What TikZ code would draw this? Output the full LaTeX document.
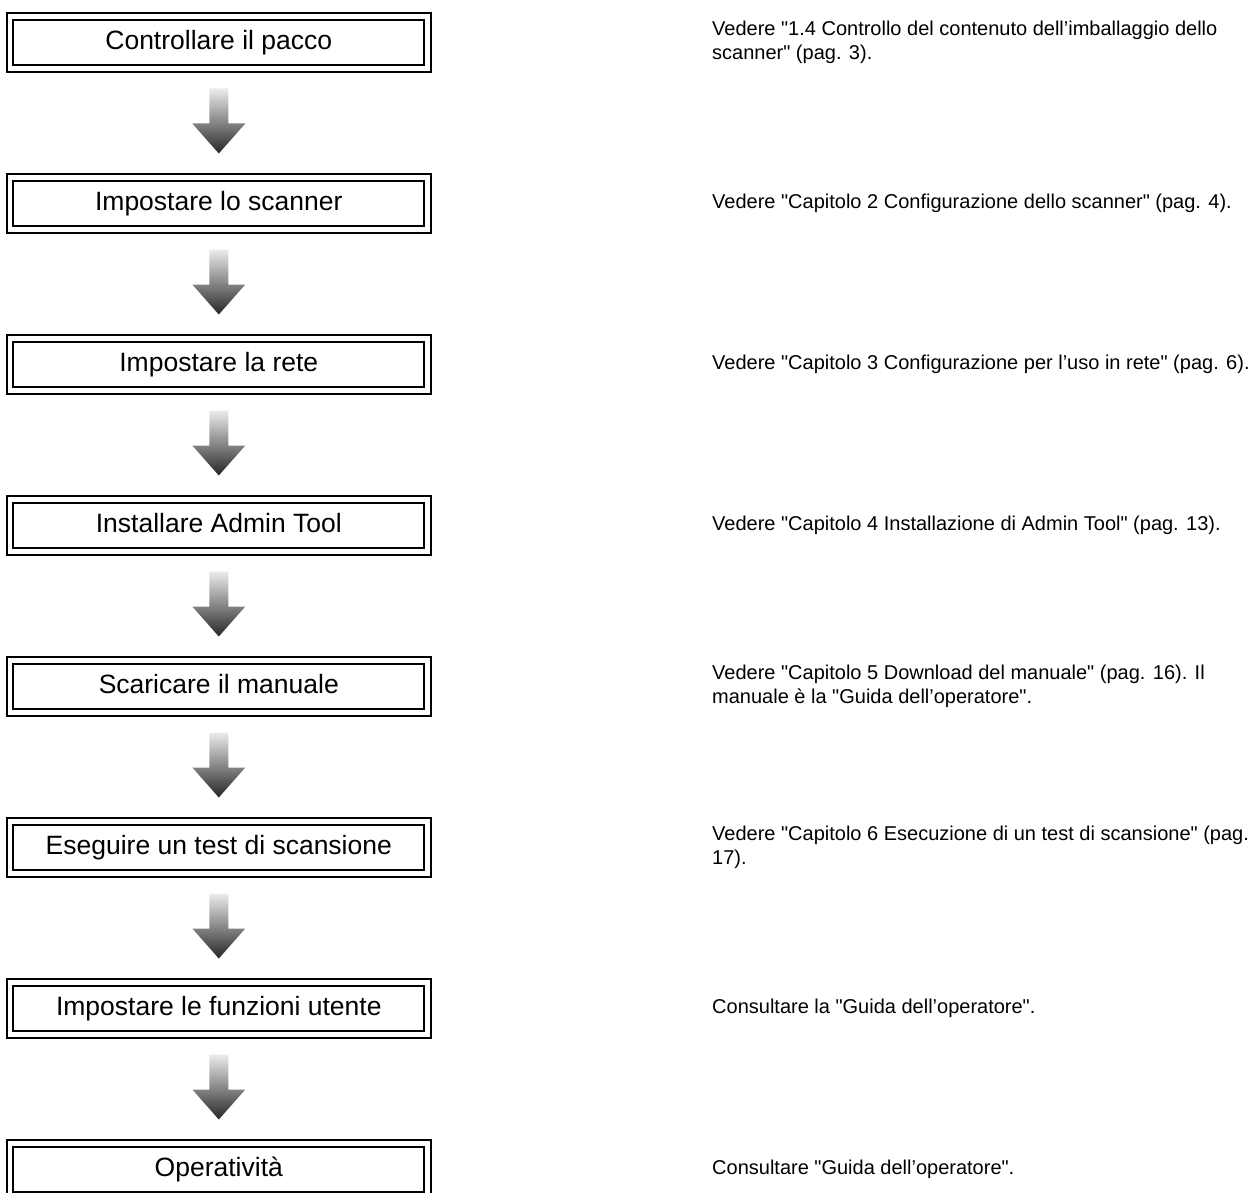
\documentclass[tikz,border=0pt]{standalone}
\usepackage{fontspec}
\setmainfont{Liberation Sans}[Ligatures=TeXOff]
\usetikzlibrary{calc}
\definecolor{arrtop}{RGB}{236,236,236}
\definecolor{arrbot}{RGB}{38,38,38}
\tikzset{
  stepbox/.style={draw=black, line width=2pt, double=white, double distance=4.5pt,
    minimum width=417.5pt, minimum height=52pt, inner sep=0pt,
    text height=19.5pt, text depth=5.6pt,
    font=\fontsize{26.5pt}{31pt}\selectfont},
  desc/.style={anchor=west, inner sep=0pt, align=left,
    font=\fontsize{20pt}{24pt}\selectfont},
  blockarrow/.style={top color=arrtop, bottom color=arrbot, draw=none}
}
\newcommand{\flowarrow}[2]{%
  \shade[blockarrow] ($(#1.center)+(-9.5,46)$) -- ($(#1.center)+(9.5,46)$)
    -- ($(#1.center)+(9.5,81)$) -- ($(#1.center)+(26.5,81)$)
    -- ($(#2.center)+(0,-50)$) -- ($(#1.center)+(-26.5,81)$)
    -- ($(#1.center)+(-9.5,81)$) -- cycle;}
\begin{document}
\begin{tikzpicture}[x=1pt,y=-1pt]
\useasboundingbox (0,0) rectangle (1253,1193);
\node[stepbox] (b1) at (218.8,42.5) {Controllare il pacco};
\node[stepbox] (b2) at (218.8,203.5) {Impostare lo scanner};
\node[stepbox] (b3) at (218.8,364.5) {Impostare la rete};
\node[stepbox] (b4) at (218.8,525.5) {Installare Admin Tool};
\node[stepbox] (b5) at (218.8,686.5) {Scaricare il manuale};
\node[stepbox] (b6) at (218.8,847.5) {Eseguire un test di scansione};
\node[stepbox] (b7) at (218.8,1008.5) {Impostare le funzioni utente};
\node[stepbox] (b8) at (218.8,1169.5) {Operatività};
\flowarrow{b1}{b2}
\flowarrow{b2}{b3}
\flowarrow{b3}{b4}
\flowarrow{b4}{b5}
\flowarrow{b5}{b6}
\flowarrow{b6}{b7}
\flowarrow{b7}{b8}
\node[desc] (d1) at (712,42) {Vedere "1.4 Controllo del contenuto dell’imballaggio dello\\scanner" (pag. 3).};
\node[desc] (d2) at (712,203) {Vedere "Capitolo 2 Configurazione dello scanner" (pag. 4).};
\node[desc] (d3) at (712,364) {Vedere "Capitolo 3 Configurazione per l’uso in rete" (pag. 6).};
\node[desc] (d4) at (712,525) {Vedere "Capitolo 4 Installazione di Admin Tool" (pag. 13).};
\node[desc] (d5) at (712,686) {Vedere "Capitolo 5 Download del manuale" (pag. 16). Il\\manuale è la "Guida dell’operatore".};
\node[desc] (d6) at (712,847) {Vedere "Capitolo 6 Esecuzione di un test di scansione" (pag.\\17).};
\node[desc] (d7) at (712,1008) {Consultare la "Guida dell’operatore".};
\node[desc] (d8) at (712,1169) {Consultare "Guida dell’operatore".};
\end{tikzpicture}
\end{document}
